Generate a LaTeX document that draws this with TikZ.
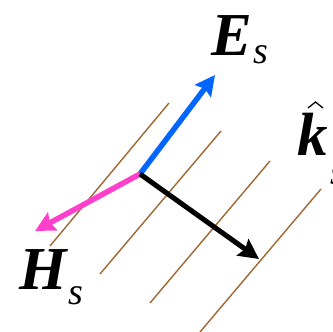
\documentclass[tikz,border=0pt]{standalone}
\usepackage{fontspec}
\setmainfont{Liberation Serif}
\usetikzlibrary{arrows.meta}
\definecolor{ebl}{RGB}{0,102,255}
\definecolor{hpk}{RGB}{255,64,204}
\definecolor{wbr}{RGB}{160,104,48}
\begin{document}
\begin{tikzpicture}[x=1pt,y=-1pt,
  front/.style={wbr,line width=1.4pt},
  vec/.style={line width=5.5pt,-{Stealth[length=20pt,width=20pt,inset=3pt]}},
  big/.style={font=\fontsize{61}{61}\selectfont\bfseries\itshape,inner sep=0pt},
  sub/.style={font=\fontsize{38}{38}\selectfont\itshape,inner sep=0pt}]
\useasboundingbox (0,0) rectangle (333,332);
% wavefronts
\draw[front] (169,103) -- (50,246);
\draw[front] (221,131) -- (100,274);
\draw[front] (270,161) -- (150,303);
\draw[front] (321,189) -- (200,332);
% vectors
\coordinate (O) at (140,174);
\coordinate (Etip) at (215,75);
\coordinate (Htip) at (35,231);
\coordinate (Ktip) at (259,259);
\draw[vec,ebl] (O) -- (Etip);
\draw[vec,hpk] (O) -- (Htip);
\draw[vec,black,line width=5pt] (O) -- (Ktip);
% labels
\node[big] (E) at (232,36) {E};
\node[sub] (Es) at (261,55) {s};
\node[big] (H) at (43,270) {H};
\node[sub] (Hs) at (76,296) {s};
\node[big] (K) at (313,134) {k};
\draw[line width=1.3pt] (308,108) -- (315.5,102) -- (323,108);
\node[sub] (Ks) at (338,176) {s};
\end{tikzpicture}
\end{document}
